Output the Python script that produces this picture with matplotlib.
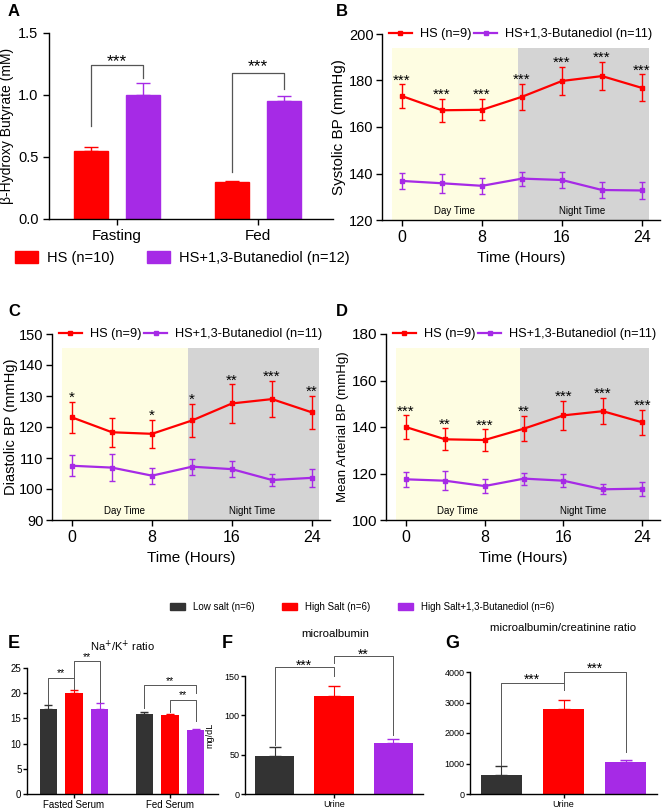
import numpy as np
import matplotlib.pyplot as plt
from matplotlib.patches import Patch
from matplotlib.lines import Line2D

plt.rcParams['font.family'] = ['Liberation Sans', 'DejaVu Sans']

RED = '#FF0000'
PURPLE = '#A62AE6'
DARK = '#333333'
YELLOW = '#FEFDE2'
GRAY = '#D4D4D4'

# ---- data ----
# A: beta-hydroxy butyrate
bhb_groups = ['Fasting', 'Fed']
bhb_hs = [0.55, 0.30]
bhb_hs_err = [0.03, 0.01]
bhb_bd = [1.00, 0.955]
bhb_bd_err = [0.10, 0.04]

# B-D: blood pressure over 24 h
hours = [0, 4, 8, 12, 16, 20, 24]
sbp_hs = [173.3, 167.2, 167.4, 173.0, 179.8, 181.9, 176.8]
sbp_hs_err = [5.0, 5.0, 4.6, 5.5, 6.1, 6.0, 5.8]
sbp_bd = [136.8, 135.8, 134.7, 137.8, 137.2, 132.9, 132.7]
sbp_bd_err = [3.6, 4.0, 3.5, 3.0, 3.5, 3.3, 3.7]
sbp_stars = ['***', '***', '***', '***', '***', '***', '***']

dbp_hs = [123.1, 118.3, 117.8, 122.1, 127.6, 129.0, 124.7]
dbp_hs_err = [5.0, 4.6, 4.5, 5.4, 6.2, 5.8, 5.4]
dbp_bd = [107.5, 106.9, 104.3, 107.2, 106.4, 102.9, 103.6]
dbp_bd_err = [3.4, 4.4, 2.6, 2.6, 2.6, 2.0, 2.8]
dbp_stars = ['*', '', '*', '*', '**', '***', '**']

map_hs = [140.0, 134.7, 134.4, 139.3, 145.0, 146.8, 142.0]
map_hs_err = [5.0, 4.7, 4.6, 5.5, 6.3, 5.7, 5.5]
map_bd = [117.5, 116.9, 114.6, 117.8, 116.9, 113.2, 113.5]
map_bd_err = [3.3, 4.1, 2.9, 2.6, 2.9, 2.1, 3.0]
map_stars = ['***', '**', '***', '**', '***', '***', '***']

# E-G: low salt / high salt / high salt + BD
nak_groups = ['Fasted Serum', 'Fed Serum']
nak_low = [16.9, 15.9]
nak_low_err = [0.8, 0.35]
nak_high = [20.1, 15.6]
nak_high_err = [0.6, 0.2]
nak_bd = [16.8, 12.7]
nak_bd_err = [1.3, 0.25]

malb = [48, 125, 64.5]
malb_err = [12, 12.7, 6]
macr = [612, 2798, 1049]
macr_err = [300, 295, 77]

W, H = 667, 808
fig = plt.figure(figsize=(W / 100, H / 100), dpi=100)


def add_ax(l, t, r, b):
    ax = fig.add_axes([l / W, 1 - b / H, (r - l) / W, (b - t) / H])
    for s in ['top', 'right']:
        ax.spines[s].set_visible(False)
    for s in ['left', 'bottom']:
        ax.spines[s].set_linewidth(1.0)
    ax.tick_params(direction='out', length=4, width=1)
    return ax


def bracket(ax, x1, x2, y1, y2, ytop, text, fs, dy, lw=0.9):
    ax.plot([x1, x1, x2, x2], [y1, ytop, ytop, y2], color='#555555', lw=lw,
            clip_on=False)
    ax.text((x1 + x2) / 2, ytop + dy, text, ha='center', va='center',
            fontsize=fs)


# ---- A ----
axA = add_ax(49, 33, 333, 219)
xA = np.arange(len(bhb_groups))
off, w = 0.185, 0.24
axA.bar(xA - off, bhb_hs, w, color=RED, edgecolor=RED)
axA.bar(xA + off, bhb_bd, w, color=PURPLE, edgecolor=PURPLE)
axA.errorbar(xA - off, bhb_hs, yerr=[np.zeros(2), bhb_hs_err], fmt='none',
             ecolor=RED, capsize=5, elinewidth=1)
axA.errorbar(xA + off, bhb_bd, yerr=[np.zeros(2), bhb_bd_err], fmt='none',
             ecolor=PURPLE, capsize=5, elinewidth=1)
axA.set_xlim(-0.48, 1.53)
axA.set_ylim(0, 1.5)
axA.set_yticks([0, 0.5, 1.0, 1.5])
axA.set_yticklabels(['0.0', '0.5', '1.0', '1.5'])
axA.set_xticks(xA)
axA.set_xticklabels(bhb_groups, fontsize=11)
axA.tick_params(axis='y', labelsize=10.5)
axA.set_ylabel('β-Hydroxy Butyrate (mM)', fontsize=10, labelpad=3)
bracket(axA, -off, off, 0.75, 1.14, 1.24, '***', 12.5, 0.03)
bracket(axA, 1 - off, 1 + off, 0.38, 1.05, 1.18, '***', 12.5, 0.045)
fig.legend(handles=[Patch(color=RED, label='HS (n=10)'),
                    Patch(color=PURPLE, label='HS+1,3-Butanediol (n=12)')],
           loc='center left', bbox_to_anchor=(2 / W, 1 - 258 / H), ncol=2,
           frameon=False, fontsize=10.5, handlelength=1.6, handleheight=0.9,
           columnspacing=2.2, handletextpad=0.6)


# ---- B, C, D ----
def bp_panel(ax, hs, hs_err, bd, bd_err, stars, ylo, yhi, ystep, ylabel,
             yfs, ytick_fs):
    rng = yhi - ylo
    ax.axvspan(-1, 11.6, ymax=0.925, color=YELLOW, lw=0, zorder=0)
    ax.axvspan(11.6, 24.7, ymax=0.925, color=GRAY, lw=0, zorder=0)
    ax.errorbar(hours, hs, yerr=hs_err, color=RED, marker='s', ms=3,
                lw=1.6, elinewidth=1, capsize=2.5)
    ax.errorbar(hours, bd, yerr=bd_err, color=PURPLE, marker='s', ms=3,
                lw=1.6, elinewidth=1, capsize=2.5)
    for h, m, e, s in zip(hours, hs, hs_err, stars):
        if s:
            ax.text(h, m + e + 0.021 * rng, s, ha='center', va='center',
                    fontsize=11)
    ax.text(5.3, ylo + 0.05 * rng, 'Day Time', ha='center', va='center',
            fontsize=7)
    ax.text(18.0, ylo + 0.05 * rng, 'Night Time', ha='center', va='center',
            fontsize=7)
    ax.set_xlim(-2, 25.8)
    ax.set_ylim(ylo, yhi)
    ax.set_yticks(np.arange(ylo, yhi + 1, ystep))
    ax.set_xticks([0, 8, 16, 24])
    ax.tick_params(axis='x', labelsize=11.5)
    ax.tick_params(axis='y', labelsize=ytick_fs, pad=2)
    ax.set_xlabel('Time (Hours)', fontsize=11)
    ax.set_ylabel(ylabel, fontsize=yfs, labelpad=2)
    handles = [Line2D([], [], color=RED, marker='s', ms=3, lw=1.6,
                      label='HS (n=9)'),
               Line2D([], [], color=PURPLE, marker='s', ms=3, lw=1.6,
                      label='HS+1,3-Butanediol (n=11)')]
    ax.legend(handles=handles, loc='center left', bbox_to_anchor=(0.025, 1.0),
              ncol=2, frameon=False, fontsize=9.2, handlelength=1.8,
              columnspacing=0.25, handletextpad=0.6, borderaxespad=0,
              borderpad=0)


axB = add_ax(382, 34, 660, 220)
bp_panel(axB, sbp_hs, sbp_hs_err, sbp_bd, sbp_bd_err, sbp_stars,
         120, 200, 20, 'Systolic BP (mmHg)', 11, 10.5)
axC = add_ax(52, 334, 330, 520)
bp_panel(axC, dbp_hs, dbp_hs_err, dbp_bd, dbp_bd_err, dbp_stars,
         90, 150, 10, 'Diastolic BP (mmHg)', 10.5, 10.5)
axC.yaxis.labelpad = 1
axD = add_ax(386, 334, 660, 520)
bp_panel(axD, map_hs, map_hs_err, map_bd, map_bd_err, map_stars,
         100, 180, 20, 'Mean Arterial BP (mmHg)', 9.5, 11)

# ---- E ----
axE = add_ax(27, 668, 218, 794)
xE = np.arange(len(nak_groups))
offE, wE = 0.266, 0.18
for dx, v, e, c in [(-offE, nak_low, nak_low_err, DARK),
                    (0, nak_high, nak_high_err, RED),
                    (offE, nak_bd, nak_bd_err, PURPLE)]:
    axE.bar(xE + dx, v, wE, color=c)
    axE.errorbar(xE + dx, v, yerr=[np.zeros(2), e], fmt='none', ecolor=c,
                 capsize=3, elinewidth=0.8)
axE.set_xlim(-0.49, 1.5)
axE.set_ylim(0, 25)
axE.set_yticks([0, 5, 10, 15, 20, 25])
axE.set_xticks(xE)
axE.set_xticklabels(nak_groups, fontsize=7)
axE.tick_params(axis='y', labelsize=7, length=3, pad=1)
axE.tick_params(axis='x', length=3, pad=1)
axE.set_title('Na$^{+}$/K$^{+}$ ratio', fontsize=8, pad=12)
bracket(axE, -offE, 0, 17.9, 20.9, 23.1, '**', 7.5, 0.9, lw=0.7)
bracket(axE, 0, offE, 23.1, 18.3, 26.3, '**', 7.5, 0.9, lw=0.7)
bracket(axE, 1 - offE, 1 + offE, 17.1, 20.0, 21.6, '**', 7.5, 0.9, lw=0.7)
bracket(axE, 1, 1 + offE, 16.3, 14.5, 18.7, '**', 7.5, 0.9, lw=0.7)


# ---- F, G ----
def urine_panel(ax, vals, errs, ylim, yticks):
    xs = np.array([-1, 0, 1])
    for x, v, e, c in zip(xs, vals, errs, [DARK, RED, PURPLE]):
        ax.bar(x, v, 0.66, color=c)
        ax.errorbar(x, v, yerr=[[0], [e]], fmt='none', ecolor=c, capsize=4,
                    elinewidth=0.8)
    ax.set_xlim(-1.5, 1.5)
    ax.set_ylim(*ylim)
    ax.set_yticks(yticks)
    ax.set_xticks([0])
    ax.set_xticklabels(['Urine'], fontsize=6.5)
    ax.tick_params(axis='y', labelsize=6.5, length=3, pad=1)
    ax.tick_params(axis='x', length=3, pad=1)


axF = add_ax(245, 676, 423, 794)
urine_panel(axF, malb, malb_err, (0, 150), [0, 50, 100, 150])
axF.set_ylabel('mg/dL', fontsize=6.5, labelpad=7)
bracket(axF, -1, 0, 62, 150, 161, '***', 10, 1.8, lw=0.7)
bracket(axF, 0, 1, 166, 75, 175, '**', 10, 1.8, lw=0.7)
fig.text(335 / W, 1 - 634 / H, 'microalbumin', ha='center', va='center',
         fontsize=8.2)

axG = add_ax(470, 672, 657, 794)
urine_panel(axG, macr, macr_err, (0, 4000), [0, 1000, 2000, 3000, 4000])
bracket(axG, -1, 0, 950, 3420, 3640, '***', 10, 120, lw=0.7)
bracket(axG, 0, 1, 3640, 1370, 4000, '***', 10, 120, lw=0.7)
fig.text(563 / W, 1 - 628 / H, 'microalbumin/creatinine ratio', ha='center',
         va='center', fontsize=8.2)

fig.legend(handles=[Patch(color=DARK, label='Low salt (n=6)'),
                    Patch(color=RED, label='High Salt (n=6)'),
                    Patch(color=PURPLE, label='High Salt+1,3-Butanediol (n=6)')],
           loc='center', bbox_to_anchor=(362 / W, 1 - 607 / H), ncol=3,
           frameon=False, fontsize=7, handlelength=1.6, handleheight=0.8,
           columnspacing=2.8, handletextpad=0.8)

# ---- panel letters ----
for lab, x, y, fs in [('A', 8, 12, 12), ('B', 336, 12, 12),
                      ('C', 8, 311, 12), ('D', 336, 311, 12),
                      ('E', 8, 643, 13), ('F', 222, 643, 13),
                      ('G', 445, 643, 13)]:
    fig.text(x / W, 1 - y / H, lab, ha='left', va='center', fontsize=fs,
             fontweight='bold')

fig.savefig('out.png', dpi=100)
